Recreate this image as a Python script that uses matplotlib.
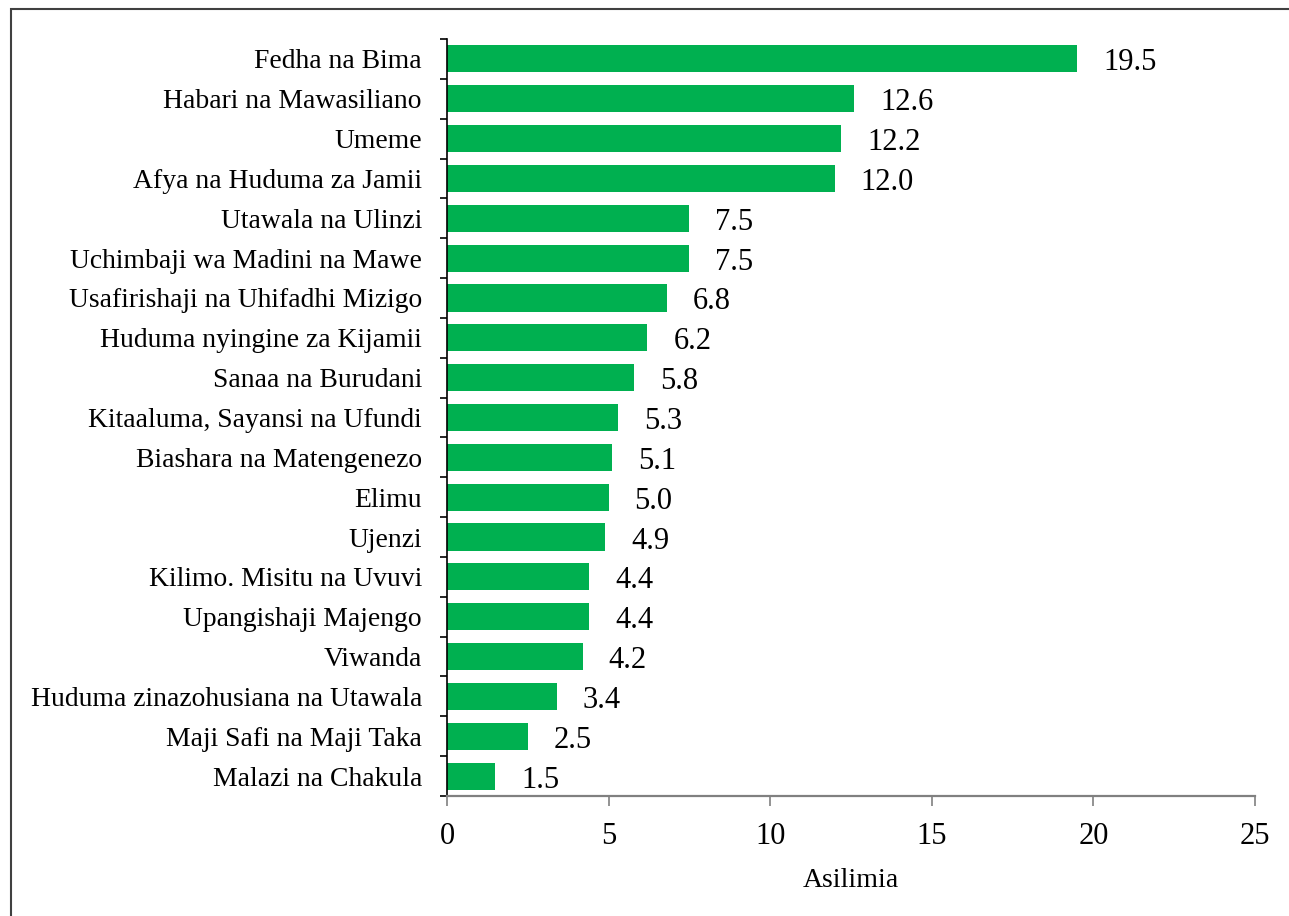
import matplotlib
matplotlib.use("Agg")
import matplotlib.pyplot as plt
from matplotlib.patches import Rectangle

categories = ["Fedha na Bima", "Habari na Mawasiliano", "Umeme", "Afya na Huduma za Jamii",
              "Utawala na Ulinzi", "Uchimbaji wa Madini na Mawe", "Usafirishaji na Uhifadhi Mizigo",
              "Huduma nyingine za Kijamii", "Sanaa na Burudani", "Kitaaluma, Sayansi na Ufundi",
              "Biashara na Matengenezo", "Elimu", "Ujenzi", "Kilimo. Misitu na Uvuvi",
              "Upangishaji Majengo", "Viwanda", "Huduma zinazohusiana na Utawala",
              "Maji Safi na Maji Taka", "Malazi na Chakula"]
values = [19.5, 12.6, 12.2, 12.0, 7.5, 7.5, 6.8, 6.2, 5.8, 5.3, 5.1, 5.0, 4.9, 4.4, 4.4, 4.2, 3.4, 2.5, 1.5]
value_labels = ["19.5", "12.6", "12.2", "12.0", "7.5", "7.5", "6.8", "6.2", "5.8", "5.3",
                "5.1", "5.0", "4.9", "4.4", "4.4", "4.2", "3.4", "2.5", "1.5"]
xticks = [0, 5, 10, 15, 20, 25]
xlabel = "Asilimia"

plt.rcParams['font.family'] = ['Liberation Serif', 'DejaVu Serif']

W, H = 1289, 916
fig = plt.figure(figsize=(W / 100, H / 100), dpi=100)
ax = fig.add_axes([447 / W, 1 - 796 / H, (1255 - 447) / W, (796 - 39) / H])

n = len(categories)
ypos = list(range(n))
ax.barh(ypos, values, height=0.68, color="#00B050")
ax.set_ylim(n - 0.5, -0.5)
ax.set_xlim(0, 25)
ax.set_xticks(xticks)
ax.set_xticklabels([str(t) for t in xticks], fontsize=22)
ax.set_yticks(ypos)
ax.set_yticklabels(categories, fontsize=19.9)
ax.tick_params(axis='y', length=0, pad=18)
ax.set_yticks([i - 0.5 for i in range(n + 1)], minor=True)
ax.tick_params(axis='y', which='minor', length=5, width=1.2, color='black', direction='out')
ax.tick_params(axis='x', length=7, width=1.2, color='#808080', direction='out', pad=12)
ax.set_xlabel(xlabel, fontsize=20, labelpad=12)

for s in ['top', 'right']:
    ax.spines[s].set_visible(False)
ax.spines['left'].set_color('black')
ax.spines['left'].set_linewidth(1.2)
ax.spines['bottom'].set_color('#808080')
ax.spines['bottom'].set_linewidth(1.6)

for y, v, lab in zip(ypos, values, value_labels):
    ax.annotate(lab, xy=(v, y), xytext=(26, -4), textcoords='offset pixels',
                va='center', ha='left', fontsize=22)

fig.patches.append(Rectangle((11 / W, -0.1), 1.2, 1 - 9 / H + 0.1, transform=fig.transFigure,
                             fill=False, edgecolor='#404040', linewidth=1.5))

fig.savefig("out.png", dpi=100)
